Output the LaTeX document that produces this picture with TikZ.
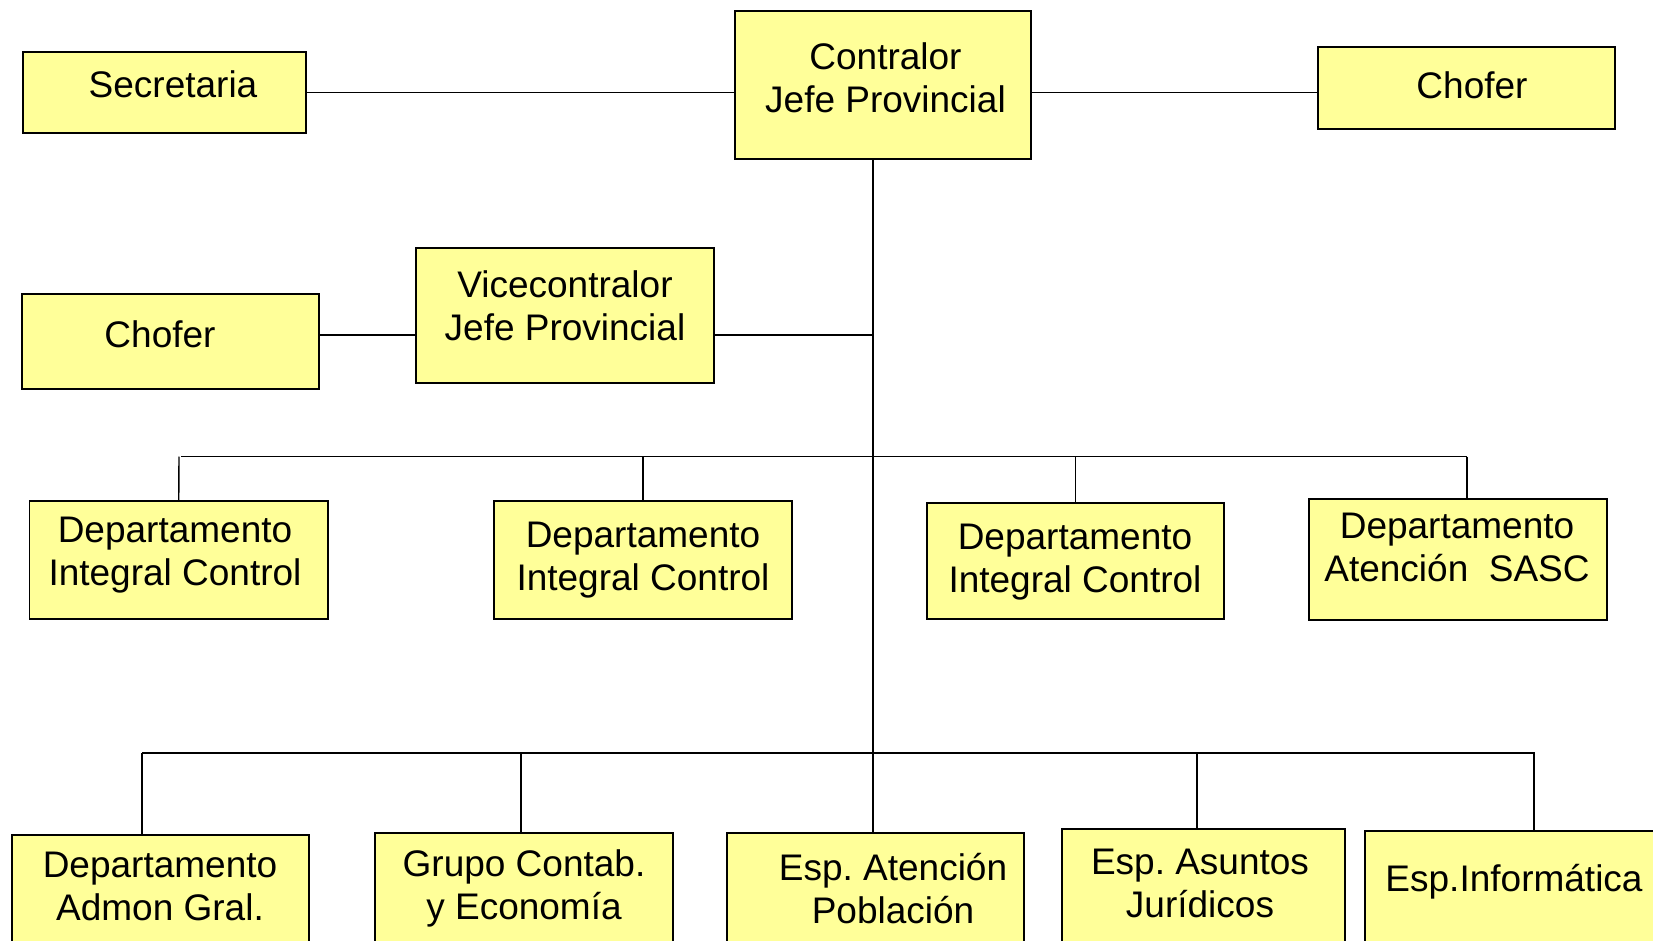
\documentclass[tikz,border=0pt]{standalone}
\usepackage{fontspec}
\setmainfont{Liberation Sans}
\frenchspacing
\definecolor{boxfill}{HTML}{FFFF99}
\begin{document}
\begin{tikzpicture}[x=1pt,y=-1pt,
  box/.style={draw=black,line width=1.6pt,fill=boxfill,inner sep=0pt,anchor=center},
  txt/.style={align=center,inner sep=0pt,font=\fontsize{37}{43}\selectfont},
  conn/.style={draw=black,line width=1.4pt}]
\path[use as bounding box] (0,0) rectangle (1653,941);
\clip (0,0) rectangle (1653,941);
% boxes
\node[box,minimum width=283pt,minimum height=81pt] (sec) at (164.5,92.5) {};
\node[box,minimum width=296pt,minimum height=148pt] (con) at (883,85) {};
\node[box,minimum width=297pt,minimum height=82pt] (chr) at (1466.5,88) {};
\node[box,minimum width=298pt,minimum height=135pt] (vice) at (565,315.5) {};
\node[box,minimum width=297pt,minimum height=95pt] (chl) at (170.5,341.5) {};
\node[box,minimum width=298.5pt,minimum height=118pt] (d1) at (178.75,560) {};
\node[box,minimum width=298pt,minimum height=118pt] (d2) at (643,560) {};
\node[box,minimum width=297pt,minimum height=116pt] (d3) at (1075.5,561) {};
\node[box,minimum width=298pt,minimum height=121pt] (d4) at (1458,559.5) {};
\node[box,minimum width=297pt,minimum height=155pt] (b1) at (160.5,912.5) {};
\node[box,minimum width=298pt,minimum height=157pt] (b2) at (524,911.5) {};
\node[box,minimum width=297pt,minimum height=157pt] (b3) at (875.5,911.5) {};
\node[box,minimum width=283pt,minimum height=161pt] (b4) at (1203.5,909.5) {};
\node[box,minimum width=335pt,minimum height=159pt] (b5) at (1532.5,910.5) {};
% texts
\node[txt] (tsec) at (173,84) {Secretaria};
\node[txt] (tcon) at (885.5,77.5) {Contralor\\Jefe Provincial};
\node[txt] (tchr) at (1472,85) {Chofer};
\node[txt] (tvice) at (565,305.7) {Vicecontralor\\Jefe Provincial};
\node[txt] (tchl) at (160,334) {Chofer};
\node[txt] (td1) at (175,555) {Departamento\\Integral Control};
\node[txt] (td2) at (643,560.6) {Departamento\\Integral Control};
\node[txt] (td3) at (1075,562) {Departamento\\Integral Control};
\node[txt] (td4) at (1457,547.6) {Departamento\\Atención\ \ SASC};
\node[txt] (tb1) at (160,886.5) {Departamento\\Admon Gral.};
\node[txt] (tb2) at (524,888.5) {Grupo Contab.\\y Economía};
\node[txt] (tb3) at (893,888.7) {Esp. Atención\\Población};
\node[txt] (tb4) at (1200,883) {Esp. Asuntos\\Jurídicos};
\node[txt] (tb5) at (1514,882) {Esp.Informática};
% coordinates
\coordinate (ttop) at (873,159);
\coordinate (tvice) at (873,335);
\coordinate (bar1) at (873,456.5);
\coordinate (bar1l) at (181,456.5);
\coordinate (bar1r) at (1467,456.5);
\coordinate (bar2) at (873,753);
\coordinate (bar2l) at (142,753);
\coordinate (bar2r) at (1535,753);
% connectors
\draw[conn] (sec.east) -- (sec.east -| con.west);
\draw[conn] (con.east |- sec.east) -- (sec.east -| chr.west);
\draw[conn] (ttop) -- (ttop |- b3.north);
\draw[conn] (chl.east |- tvice) -- (vice.west |- tvice);
\draw[conn] (vice.east |- tvice) -- (tvice);
\draw[conn] (bar1l) -- (bar1r);
\draw[conn] (179,456.5) -- (179,501 -| d1.north);
\draw[conn] (bar1 -| d2.north) -- (d2.north);
\draw[conn] (bar1 -| d3.north) -- (d3.north);
\draw[conn] (bar1r) -- (bar1r |- d4.north);
\draw[conn] (bar2l) -- (bar2r);
\draw[conn] (bar2l) -- (bar2l |- b1.north);
\draw[conn] (521,753) -- (521,753 |- b2.north);
\draw[conn] (1197,753) -- (1197,753 |- b4.north);
\draw[conn] (1534,753) -- (1534,753 |- b5.north);
\end{tikzpicture}
\end{document}
